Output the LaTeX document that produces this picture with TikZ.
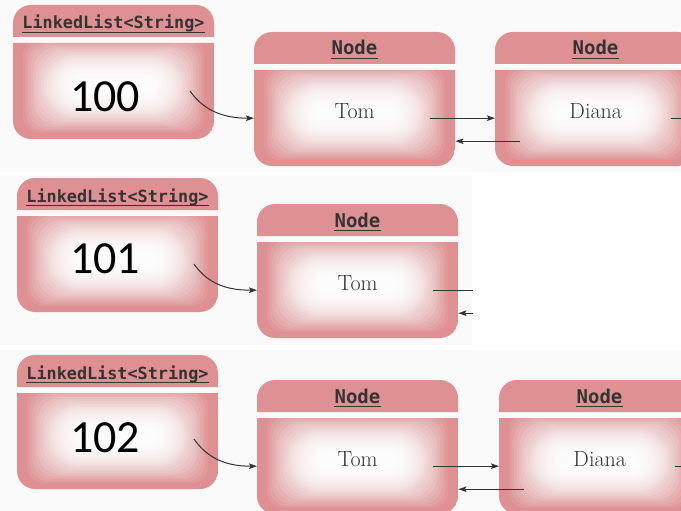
\documentclass[tikz,border=0pt]{standalone}
\usepackage{fontspec}
\newfontfamily\monofont{DejaVu Sans Mono}
\newfontfamily\numfont{Carlito}
\usetikzlibrary{arrows.meta}

\definecolor{hdrpink}{HTML}{DE9092}
\definecolor{inkgray}{HTML}{333333}
\definecolor{panelgray}{HTML}{FAFAFA}

\begin{document}
\begin{tikzpicture}[x=1pt, y=-1pt,
    hdr/.style={fill=hdrpink},
    bodyshape/.style={insert path={(\x,\y+38) -- (\x+\w,\y+38) -- (\x+\w,\y+134-\r) arc[start angle=0, end angle=90, radius=\r] -- (\x+\r,\y+134) arc[start angle=90, end angle=180, radius=\r] -- cycle}},
    glow/.style={fill=white, rounded corners=#1},
    bodyarea/.style={rectangle, inner sep=0, minimum width=201pt, minimum height=96pt, anchor=north west},
    lltitle/.style={font=\monofont\bfseries\fontsize{16.8}{18}\selectfont, text=inkgray, inner sep=0, anchor=base},
    nodetitle/.style={font=\monofont\bfseries\fontsize{19}{20}\selectfont, text=inkgray, inner sep=0, anchor=base},
    uline/.style={draw=inkgray, line width=1.3pt},
    valtext/.style={font=\numfont\fontsize{46}{48}\selectfont, inner sep=0, anchor=base},
    datatext/.style={font=\fontsize{22}{24}\selectfont, text=inkgray, inner sep=0, anchor=base},
    link/.style={draw=inkgray, line width=1pt},
    ptr/.style={link, -{Stealth[length=8pt, width=5.5pt, inset=1.5pt]}}]

  \useasboundingbox (0,0) rectangle (681,511);
  \clip (0,0) rectangle (681,511);

  \def\w{201};
  \def\r{18};

  %panels
  \fill[panelgray] (0,0) rectangle (681,172);
  \fill[panelgray] (0,175) rectangle (472,345);
  \fill[panelgray] (0,350) rectangle (681,511);

  %draw boxes
    \foreach \x/\y/\name in {13/5/ll1, 17/178/ll2, 17/355/ll3, 254/32/tom1, 495/32/diana1, 257/204/tom2, 257/380/tom3, 499/380/diana3}{
        \fill[hdr] (\x,\y+32) -- (\x,\y+\r) arc[start angle=180, end angle=270, radius=\r] -- (\x+\w-\r,\y) arc[start angle=270, end angle=360, radius=\r] -- (\x+\w,\y+32) -- cycle;
        \begin{scope}
            \clip[bodyshape];
            \fill[hdr, bodyshape];
            \foreach \k in {0,...,20}{
                \pgfmathsetmacro\gx{10+2.6*\k}
                \pgfmathsetmacro\gy{6+2*\k}
                \pgfmathsetmacro\rr{min(10+\gy, 52.5-\gy)}
                \pgfmathsetmacro\ga{0.08+0.01*\k}
                \fill[glow=\rr pt, opacity=\ga] (\x+\gx,\y+28+\gy) rectangle (\x+\w-\gx,\y+134-\gy);
            }
        \end{scope}
        \node[bodyarea] (\name) at (\x,\y+38) {};
    }

  %titles
    \foreach \x/\y/\name in {13/5/ll1, 17/178/ll2, 17/355/ll3}{
        \node[lltitle] (h\name) at (\x+\w/2,\y+24) {LinkedList<String>};
        \draw[uline] ([yshift=-3.5pt]h\name.base west) -- ([yshift=-3.5pt]h\name.base east);
    }
    \foreach \x/\y/\name in {254/32/tom1, 495/32/diana1, 257/204/tom2, 257/380/tom3, 499/380/diana3}{
        \node[nodetitle] (h\name) at (\x+\w/2,\y+23) {Node};
        \draw[uline] ([yshift=-3.5pt]h\name.base west) -- ([yshift=-3.5pt]h\name.base east);
    }

  %values
    \foreach \y/\num/\name in {112/100/v1, 273/101/v2, 452/102/v3}{
        \node[valtext] (\name) at (105,\y) {\num};
    }
    \foreach \name/\txt in {tom1/Tom, diana1/Diana, tom2/Tom, tom3/Tom, diana3/Diana}{
        \node[datatext] (d\name) at ([yshift=-0.5pt]\name.center) {\txt};
    }

  %pointers
  \coordinate (p1) at (190,91);
  \coordinate (p2) at (194,264);
  \coordinate (p3) at (194,439);
    \foreach \i in {1,2,3}{
        \draw[ptr] (p\i) .. controls +(14,20) and +(-30,0) .. (tom\i.west);
    }

  %next / prev links
    \foreach \i in {1,3}{
        \draw[ptr] ([xshift=75pt]tom\i.center) -- (diana\i.west);
        \coordinate (b\i) at ([xshift=-76pt, yshift=-23pt]diana\i.center);
        \draw[ptr] (b\i) -- (b\i -| tom\i.east);
        \coordinate (n\i) at ([xshift=40pt]diana\i.east);
        \draw[link] ([xshift=75pt]diana\i.center) -- (n\i);
    }
  \coordinate (n2) at ([xshift=15pt]tom2.east);
  \draw[link] ([xshift=75pt]tom2.center) -- (n2);
  \coordinate (b2) at ([xshift=15pt, yshift=-23pt]tom2.east);
  \draw[ptr] (b2) -- (b2 -| tom2.east);

\end{tikzpicture}
\end{document}
